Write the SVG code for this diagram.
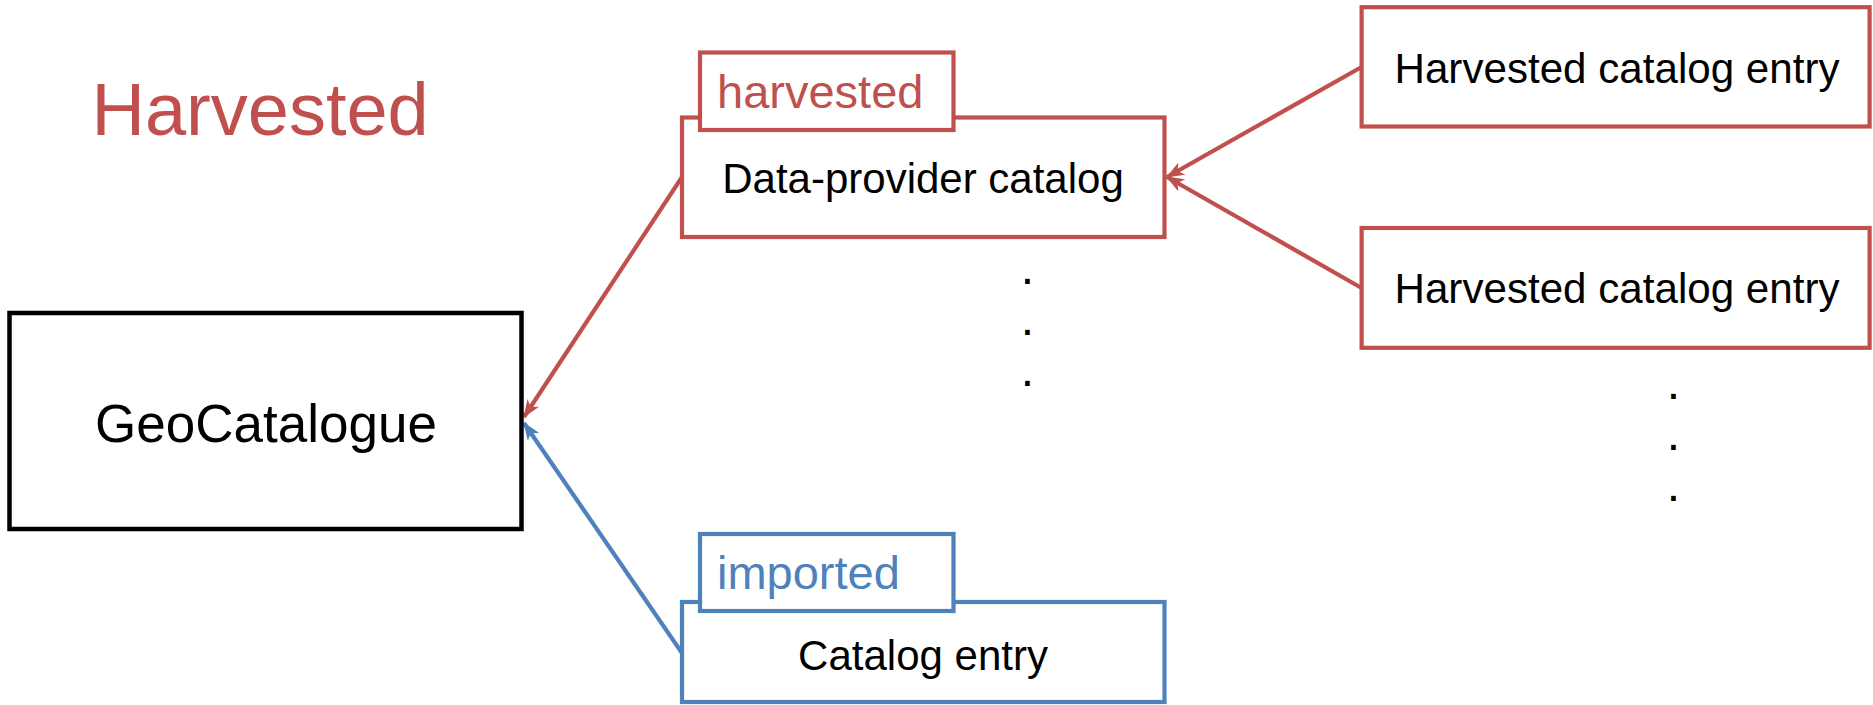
<svg xmlns="http://www.w3.org/2000/svg" width="1873" height="705" viewBox="0 0 1873 705">
<style>
text{font-family:"Liberation Sans",Arial,sans-serif;}
.red{fill:none;stroke:#c0504d;stroke-width:4.2;}
.blue{fill:none;stroke:#4f81bd;stroke-width:4.2;}
.blk{fill:#fff;stroke:#000;stroke-width:4.5;}
.rbox{fill:#fff;stroke:#c0504d;stroke-width:4.2;}
.bbox{fill:#fff;stroke:#4f81bd;stroke-width:4.2;}
.lbl{font-size:42px;fill:#000;}
.dot{font-size:48px;fill:#000;text-anchor:middle;}
</style>
<defs>
<marker id="ar" markerUnits="userSpaceOnUse" viewBox="0 0 18 14" refX="17" refY="7" markerWidth="18" markerHeight="14" orient="auto"><path d="M0,0 L18,7 L0,14 L5,7 Z" fill="#c0504d"/></marker>
<marker id="ab" markerUnits="userSpaceOnUse" viewBox="0 0 18 14" refX="17" refY="7" markerWidth="18" markerHeight="14" orient="auto"><path d="M0,0 L18,7 L0,14 L5,7 Z" fill="#4f81bd"/></marker>
</defs>
<rect width="1873" height="705" fill="#fff"/>
<text x="91.5" y="135" font-size="74" fill="#c0504d">Harvested</text>
<g id="connectors">
<line class="red" x1="682" y1="177" x2="524" y2="417" marker-end="url(#ar)"/>
<line class="blue" x1="682" y1="653" x2="524" y2="423" marker-end="url(#ab)"/>
<line class="red" x1="1361.6" y1="67" x2="1167" y2="177" marker-end="url(#ar)"/>
<line class="red" x1="1361.6" y1="288" x2="1167" y2="177" marker-end="url(#ar)"/>
</g>
<g id="geocatalogue">
<rect class="blk" x="9.5" y="313" width="512" height="216"/>
<text class="lbl" x="266" y="442" text-anchor="middle" style="font-size:53px">GeoCatalogue</text>
</g>
<g id="data-provider">
<rect class="rbox" x="682" y="117.5" width="482.5" height="119.5"/>
<rect class="rbox" x="700" y="52.5" width="253.5" height="77.5"/>
<text x="717" y="108" font-size="47" fill="#c0504d">harvested</text>
<text class="lbl" x="923" y="193" text-anchor="middle">Data-provider catalog</text>
</g>
<g id="entry1">
<rect class="rbox" x="1361.6" y="7.2" width="508" height="119.3"/>
<text class="lbl" x="1617" y="83" text-anchor="middle" textLength="445" lengthAdjust="spacingAndGlyphs">Harvested catalog entry</text>
</g>
<g id="entry2">
<rect class="rbox" x="1361.6" y="228" width="508" height="119.8"/>
<text class="lbl" x="1617" y="303" text-anchor="middle" textLength="445" lengthAdjust="spacingAndGlyphs">Harvested catalog entry</text>
</g>
<g id="catalog-entry">
<rect class="bbox" x="682" y="602" width="482.5" height="100"/>
<rect class="bbox" x="700" y="534" width="253.5" height="77"/>
<text x="717" y="589" font-size="47" fill="#4f81bd">imported</text>
<text class="lbl" x="923" y="670" text-anchor="middle">Catalog entry</text>
</g>
<g id="dots">
<text class="dot" x="1027.5" y="284">.</text>
<text class="dot" x="1027.5" y="335">.</text>
<text class="dot" x="1027.5" y="386">.</text>
<text class="dot" x="1673.5" y="399">.</text>
<text class="dot" x="1673.5" y="450">.</text>
<text class="dot" x="1673.5" y="501">.</text>
</g>
</svg>
